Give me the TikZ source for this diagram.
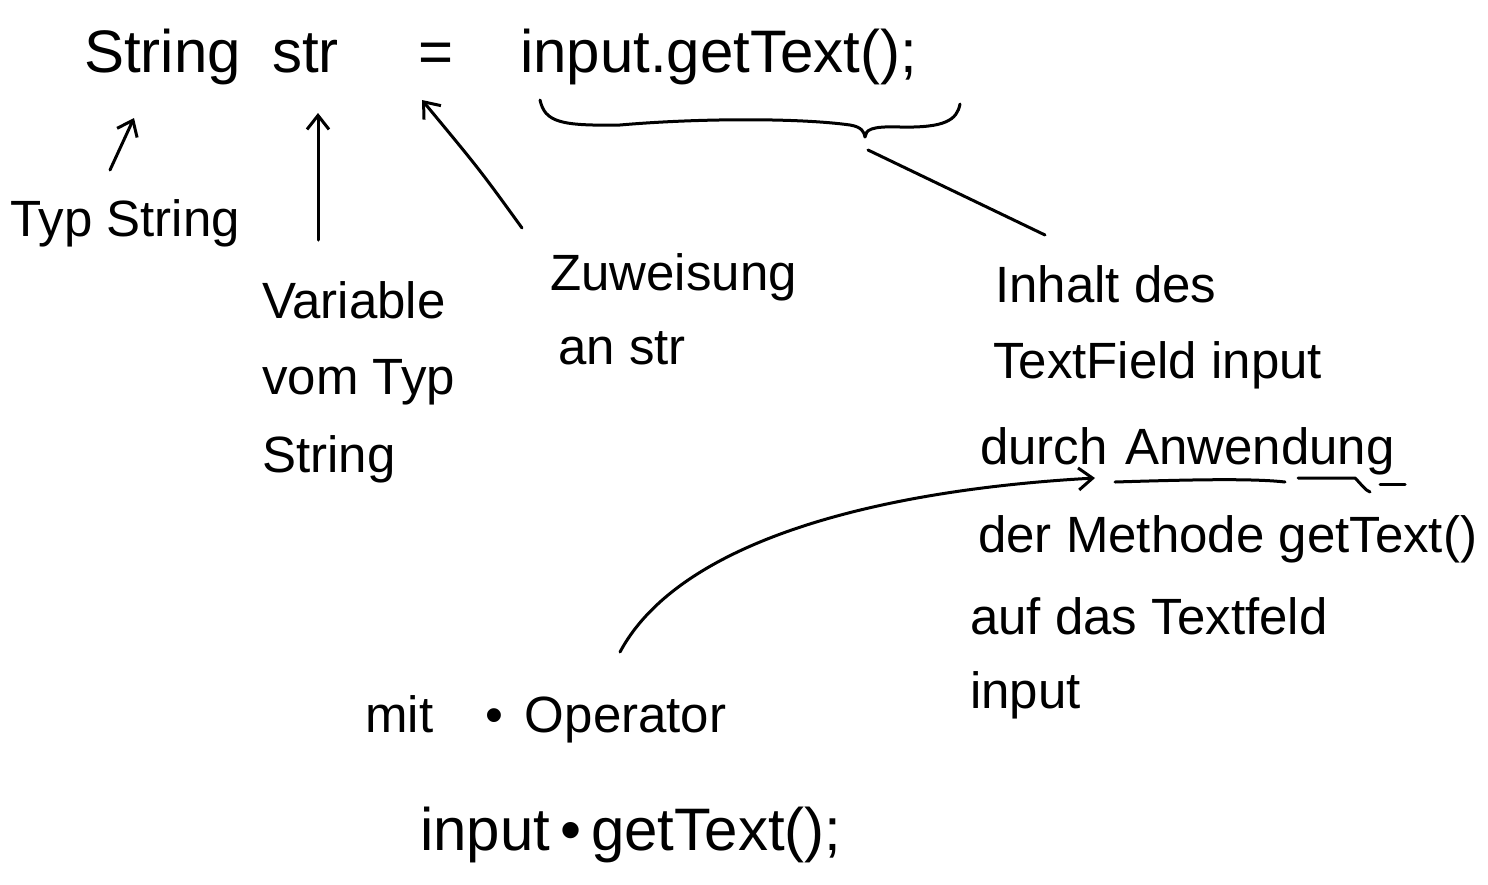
\documentclass[tikz,border=0pt]{standalone}
\usepackage{fontspec}
\setmainfont{Liberation Sans}
\usetikzlibrary{arrows.meta}
\tikzset{
  ink/.style={line width=3pt, line cap=round, line join=round, black},
  arr/.style={ink, -{Straight Barb[length=14pt,width=22pt,line width=3pt]}},
  big/.style={font=\fontsize{60}{64}\selectfont, anchor=base west, inner sep=0pt},
  lbl/.style={font=\fontsize{51}{56}\selectfont, anchor=base west, inner sep=0pt},
}
\begin{document}
\begin{tikzpicture}[x=1pt,y=-1pt]
\useasboundingbox[fill=white] (0,0) rectangle (1488,884);
% top line
\node[big] (string) at (84,72) {String};
\node[big] (str) at (272,72) {str};
\node[big] (eq) at (418,72) {=};
\node[big] (call) at (520,72) {input.getText();};
% labels
\node[lbl] (typ) at (10,236) {Typ String};
\node[lbl] (var1) at (262,318) {Variable};
\node[lbl] (var2) at (262,394) {vom Typ};
\node[lbl] (var3) at (262,472) {String};
\node[lbl] (zuw1) at (550,290) {Zuweisung};
\node[lbl] (zuw2) at (558,364) {an str};
\node[lbl] (inh1) at (995,302) {Inhalt des};
\node[lbl] (inh2) at (993,378) {TextField input};
\node[lbl] (inh3a) at (980,464) {durch};
\node[lbl] (inh3b) at (1125,464) {Anwendung};
\node[lbl] (inh4) at (978,552) {der Methode getText()};
\node[lbl] (inh5) at (970,634) {auf das Textfeld};
\node[lbl] (inh6) at (970,708) {input};
\node[lbl] (mit) at (365,732) {mit\hspace{52pt}•\hspace{22pt}Operator};
\node[big] (call2) at (420,850) {input\,•\,getText();};
% arrows
\coordinate (a1s) at (110,170); \coordinate (a1e) at (134,118);
\draw[arr] (a1s) -- (a1e);
\coordinate (a2s) at (318,240); \coordinate (a2e) at (318,113);
\draw[arr] (a2s) -- (a2e);
\coordinate (a3s) at (522,228); \coordinate (a3e) at (422,100);
\draw[arr] (a3s) .. controls (480,170) .. (a3e);
% brace
\coordinate (bl) at (540,100); \coordinate (bt) at (865,137); \coordinate (br) at (960,104);
\draw[ink] (bl) .. controls (545,122) and (560,126) .. (620,125)
  .. controls (700,118) and (800,118) .. (850,125)
  .. controls (862,127) and (864,132) .. (bt)
  .. controls (866,130) and (870,126) .. (900,127)
  .. controls (945,128) and (957,120) .. (br);
% brace to Inhalt
\coordinate (ls) at (868,150); \coordinate (le) at (1045,235);
\draw[ink] (ls) -- (le);
% underline Anwendung
\draw[ink] (1115,482) .. controls (1180,480) and (1250,478) .. (1285,482);
\draw[ink] (1298,478) -- (1355,478) .. controls (1362,485) and (1365,490) .. (1370,492);
\draw[ink] (1380,484) -- (1405,484);
% curved arrow from mit . Operator to Anwendung
\coordinate (cs) at (620,652); \coordinate (ce) at (1095,478);
\draw[arr] (cs) .. controls (680,540) and (880,490) .. (ce);
\end{tikzpicture}
\end{document}
